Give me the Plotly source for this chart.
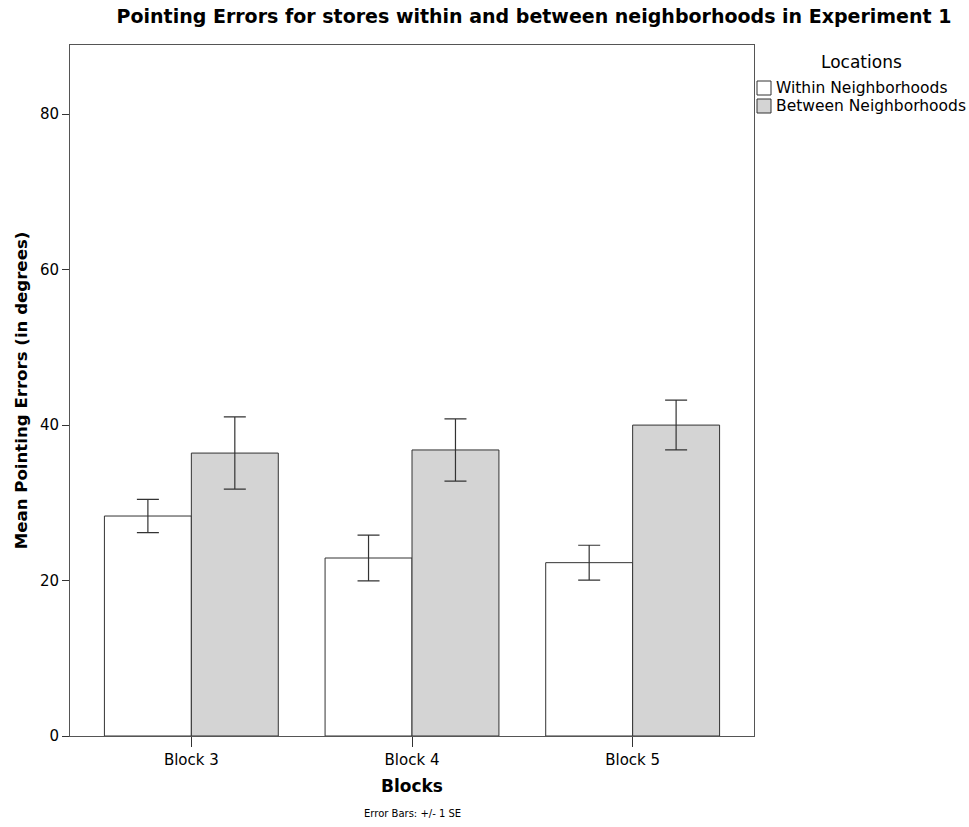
import plotly.graph_objects as go

blocks = ["Block 3", "Block 4", "Block 5"]
series_names = ["Within Neighborhoods", "Between Neighborhoods"]
within_mean = [28.3, 22.9, 22.3]
within_se = [2.14, 2.94, 2.24]
between_mean = [36.4, 36.8, 40.0]
between_se = [4.65, 4.0, 3.2]

FONT = "DejaVu Sans"
W, H = 969, 827
L, R, T, B = 70, 215, 45, 91
PW, PH = W - L - R, H - T - B
fills = ["white", "#d4d4d4"]


def px(xp):
    return (xp - L) / PW


def py(yp):
    return (H - B - yp) / PH


fig = go.Figure()
for name, mean, se, fill in zip(series_names, [within_mean, between_mean],
                                [within_se, between_se], fills):
    fig.add_trace(go.Bar(
        x=blocks, y=mean, name=name,
        marker=dict(color=fill, line=dict(color="#333333", width=1)),
        error_y=dict(type="data", array=se, visible=True,
                     color="#333333", thickness=1.2, width=11),
        hoverinfo="skip",
    ))

fig.update_layout(
    width=W, height=H,
    margin=dict(l=L, r=R, t=T, b=B, autoexpand=False),
    paper_bgcolor="white", plot_bgcolor="white",
    barmode="group", bargap=0.212, bargroupgap=0,
    font=dict(family=FONT, size=15, color="black"),
    title=dict(text="<b>Pointing Errors for stores within and between neighborhoods in Experiment 1</b>",
               x=534 / W, xanchor="center", y=1 - 16 / H, yanchor="middle",
               font=dict(family=FONT, size=19, color="black")),
    showlegend=False,
    xaxis=dict(range=[-0.55, 2.55], showline=True, linecolor="#555555", linewidth=1,
               mirror=True, ticks="outside", ticklen=10, tickcolor="#333333",
               showgrid=False, tickfont=dict(size=15),
               title=dict(text="<b>Blocks</b>", font=dict(size=17), standoff=12)),
    yaxis=dict(range=[0, 88.9], showline=True, linecolor="#555555", linewidth=1,
               mirror=True, ticks="outside", ticklen=7, tickcolor="#333333",
               tickvals=[0, 20, 40, 60, 80], showgrid=False, zeroline=False,
               tickfont=dict(size=15),
               title=dict(text="<b>Mean Pointing Errors (in degrees)</b>",
                          font=dict(size=16.6), standoff=8)),
)

fig.add_annotation(text="Error Bars: +/- 1 SE", xref="paper", yref="paper",
                   x=px(412), y=py(814), xanchor="center", yanchor="middle",
                   showarrow=False, font=dict(family=FONT, size=10))

# legend (drawn to match the compact reference layout)
fig.add_annotation(text="Locations", xref="paper", yref="paper",
                   x=px(861), y=py(62), xanchor="center", yanchor="middle",
                   showarrow=False, font=dict(family=FONT, size=17))
for i, (name, fill) in enumerate(zip(series_names, fills)):
    cy = 88 + 18 * i
    fig.add_shape(type="rect", xref="paper", yref="paper",
                  x0=px(757), x1=px(771), y0=py(cy - 7), y1=py(cy + 7),
                  fillcolor=fill, line=dict(color="#333333", width=1))
    fig.add_annotation(text=name, xref="paper", yref="paper",
                       x=px(774), y=py(cy), xanchor="left", yanchor="middle",
                       showarrow=False, font=dict(family=FONT, size=15.5))

fig.write_html("out.html", config={"displayModeBar": False},
               post_script="document.body.style.margin='0';")
